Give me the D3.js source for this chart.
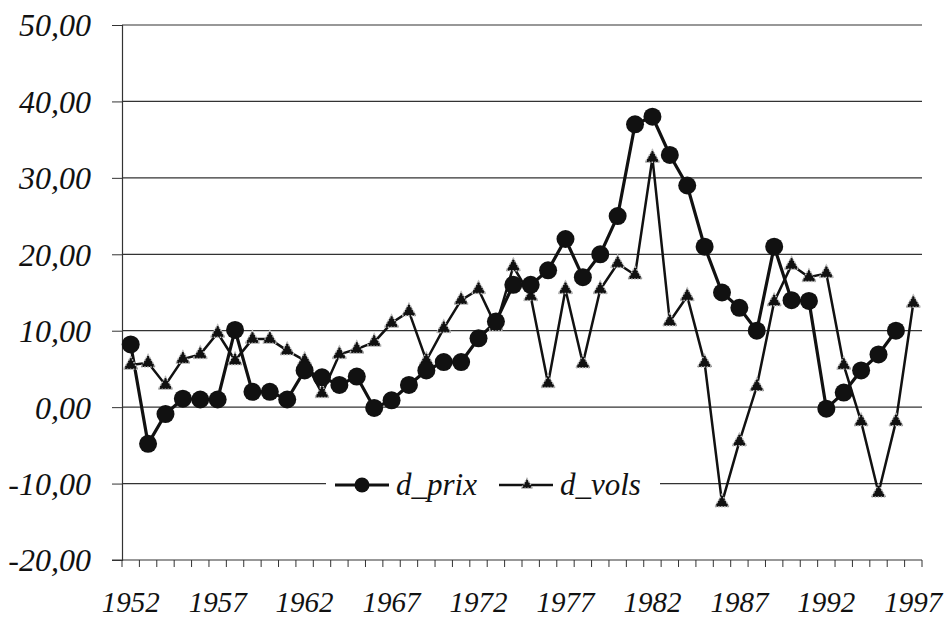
<!DOCTYPE html>
<html>
<head>
<meta charset="utf-8">
<script src="https://cdn.jsdelivr.net/npm/d3@7"></script>
<style>
  body { margin: 0; background: #fff; }
</style>
</head>
<body>
<div id="viz"></div>
<script>
const years = d3.range(1952, 1998)
const yTicks = [-20, -10, 0, 10, 20, 30, 40, 50]
const xLabels = [1952, 1957, 1962, 1967, 1972, 1977, 1982, 1987, 1992, 1997]

// d_prix : pas de valeur en 1997
const dPrix = [8.2, -4.8, -0.9, 1.1, 1, 1, 10.1, 2, 2, 1, 4.8, 3.9, 2.9, 4, -0.1,
  0.9, 2.9, 4.8, 5.9, 5.9, 9, 11.2, 16, 16, 17.9, 22, 17, 20, 25, 37,
  38, 33, 29, 21, 15, 13, 10, 21, 14, 13.9, -0.2, 1.9, 4.8, 6.9, 10, null]

const dVols = [5.5, 5.8, 2.9, 6.3, 6.9, 9.7, 6.1, 8.9, 8.9, 7.4, 6.1, 1.8, 6.9, 7.6, 8.5,
  11, 12.5, 6.1, 10.3, 14, 15.4, 10.6, 18.4, 14.5, 3.1, 15.4, 5.7, 15.4, 18.8, 17.3,
  32.6, 11.2, 14.5, 5.8, -12.5, -4.5, 2.7, 13.8, 18.6, 17, 17.5, 5.5, -1.9, -11.2, -1.9, 13.6]

const width = 949
const height = 621
const serif = '"Liberation Serif"'

const svg = d3.select("#viz").append("svg")
  .attr("width", width)
  .attr("height", height)
  .style("background-color", "#fff")

const x = d3.scaleBand()
  .domain(years)
  .range([122, 922])

const y = d3.scaleLinear()
  .domain([-20, 50])
  .range([560, 25])

const cx = d => x(d) + x.bandwidth() / 2

// gridlines
svg.append("g")
  .selectAll("line")
  .data(yTicks.filter(t => t > -20))
  .join("line")
  .attr("x1", 122)
  .attr("x2", 922)
  .attr("y1", d => y(d))
  .attr("y2", d => y(d))
  .attr("stroke", "#333")
  .attr("stroke-width", 1.2)

// y axis, format français "10,00"
const fmt = d => d3.format(".2f")(d).replace(".", ",").replace("\u2212", "-")
const yAxis = svg.append("g")
  .attr("transform", "translate(122,0)")
  .call(d3.axisLeft(y).tickValues(yTicks).tickSize(10).tickFormat(fmt))
yAxis.select(".domain").attr("stroke", "#333").attr("stroke-width", 1.2)
yAxis.selectAll(".tick line").attr("stroke", "#333").attr("x2", -10).attr("x1", 0)
yAxis.selectAll(".tick text")
  .attr("x", -31)
  .attr("dy", "0.34em")
  .style("font-family", serif)
  .style("font-style", "italic")
  .style("font-size", "32px")
  .attr("fill", "#111")

// x axis: ticks on category boundaries
const xAxis = svg.append("g")
xAxis.append("line")
  .attr("x1", 112).attr("x2", 922)
  .attr("y1", y(-20)).attr("y2", y(-20))
  .attr("stroke", "#333").attr("stroke-width", 1.2)
xAxis.selectAll("line.tk")
  .data(years.concat([1998]))
  .join("line")
  .attr("class", "tk")
  .attr("x1", d => d === 1998 ? x(1997) + x.bandwidth() : x(d))
  .attr("x2", d => d === 1998 ? x(1997) + x.bandwidth() : x(d))
  .attr("y1", y(-20))
  .attr("y2", y(-20) + 7)
  .attr("stroke", "#333")
xAxis.selectAll("text")
  .data(xLabels)
  .join("text")
  .attr("x", d => cx(d))
  .attr("y", 612)
  .attr("text-anchor", "middle")
  .style("font-family", serif)
  .style("font-style", "italic")
  .style("font-size", "29px")
  .attr("fill", "#111")
  .text(d => d)

// legend box (covers the -10 gridline)
const leg = svg.append("g")
leg.append("rect")
  .attr("x", 326).attr("y", 468)
  .attr("width", 334).attr("height", 36)
  .attr("fill", "#fff")

// series
const linePrix = d3.line()
  .defined(d => d[1] !== null)
  .x(d => cx(d[0]))
  .y(d => y(d[1]))

const prixData = years.map((yr, i) => [yr, dPrix[i]])
const volsData = years.map((yr, i) => [yr, dVols[i]])

svg.append("path")
  .datum(volsData)
  .attr("d", linePrix)
  .attr("fill", "none")
  .attr("stroke", "#111")
  .attr("stroke-width", 2.5)

svg.append("path")
  .datum(prixData)
  .attr("d", linePrix)
  .attr("fill", "none")
  .attr("stroke", "#111")
  .attr("stroke-width", 3.2)

const tri = d3.symbol().type(d3.symbolTriangle).size(90)

svg.append("g")
  .selectAll("path")
  .data(volsData)
  .join("path")
  .attr("d", tri)
  .attr("transform", d => `translate(${cx(d[0])},${y(d[1])})`)
  .attr("fill", "#111")
  .attr("stroke", "#bbb")
  .attr("stroke-width", 1.5)
  .attr("stroke-dasharray", "1.5,1.5")

svg.append("g")
  .selectAll("circle")
  .data(prixData.filter(d => d[1] !== null))
  .join("circle")
  .attr("cx", d => cx(d[0]))
  .attr("cy", d => y(d[1]))
  .attr("r", 9)
  .attr("fill", "#111")

// legend content
leg.append("line").attr("x1", 335).attr("x2", 389).attr("y1", 485).attr("y2", 485)
  .attr("stroke", "#111").attr("stroke-width", 3)
leg.append("circle").attr("cx", 362).attr("cy", 485).attr("r", 7.5).attr("fill", "#111")
leg.append("text").attr("x", 396).attr("y", 495)
  .style("font-family", serif).style("font-style", "italic").style("font-size", "31px")
  .attr("fill", "#111").text("d_prix")

leg.append("line").attr("x1", 499).attr("x2", 553).attr("y1", 485).attr("y2", 485)
  .attr("stroke", "#111").attr("stroke-width", 2.5)
leg.append("path").attr("d", d3.symbol().type(d3.symbolTriangle).size(55)).attr("transform", "translate(527,485)")
  .attr("fill", "#111").attr("stroke", "#bbb").attr("stroke-width", 1.5).attr("stroke-dasharray", "1.5,1.5")
leg.append("text").attr("x", 560).attr("y", 495)
  .style("font-family", serif).style("font-style", "italic").style("font-size", "31px")
  .attr("fill", "#111").text("d_vols")
</script>
</body>
</html>
